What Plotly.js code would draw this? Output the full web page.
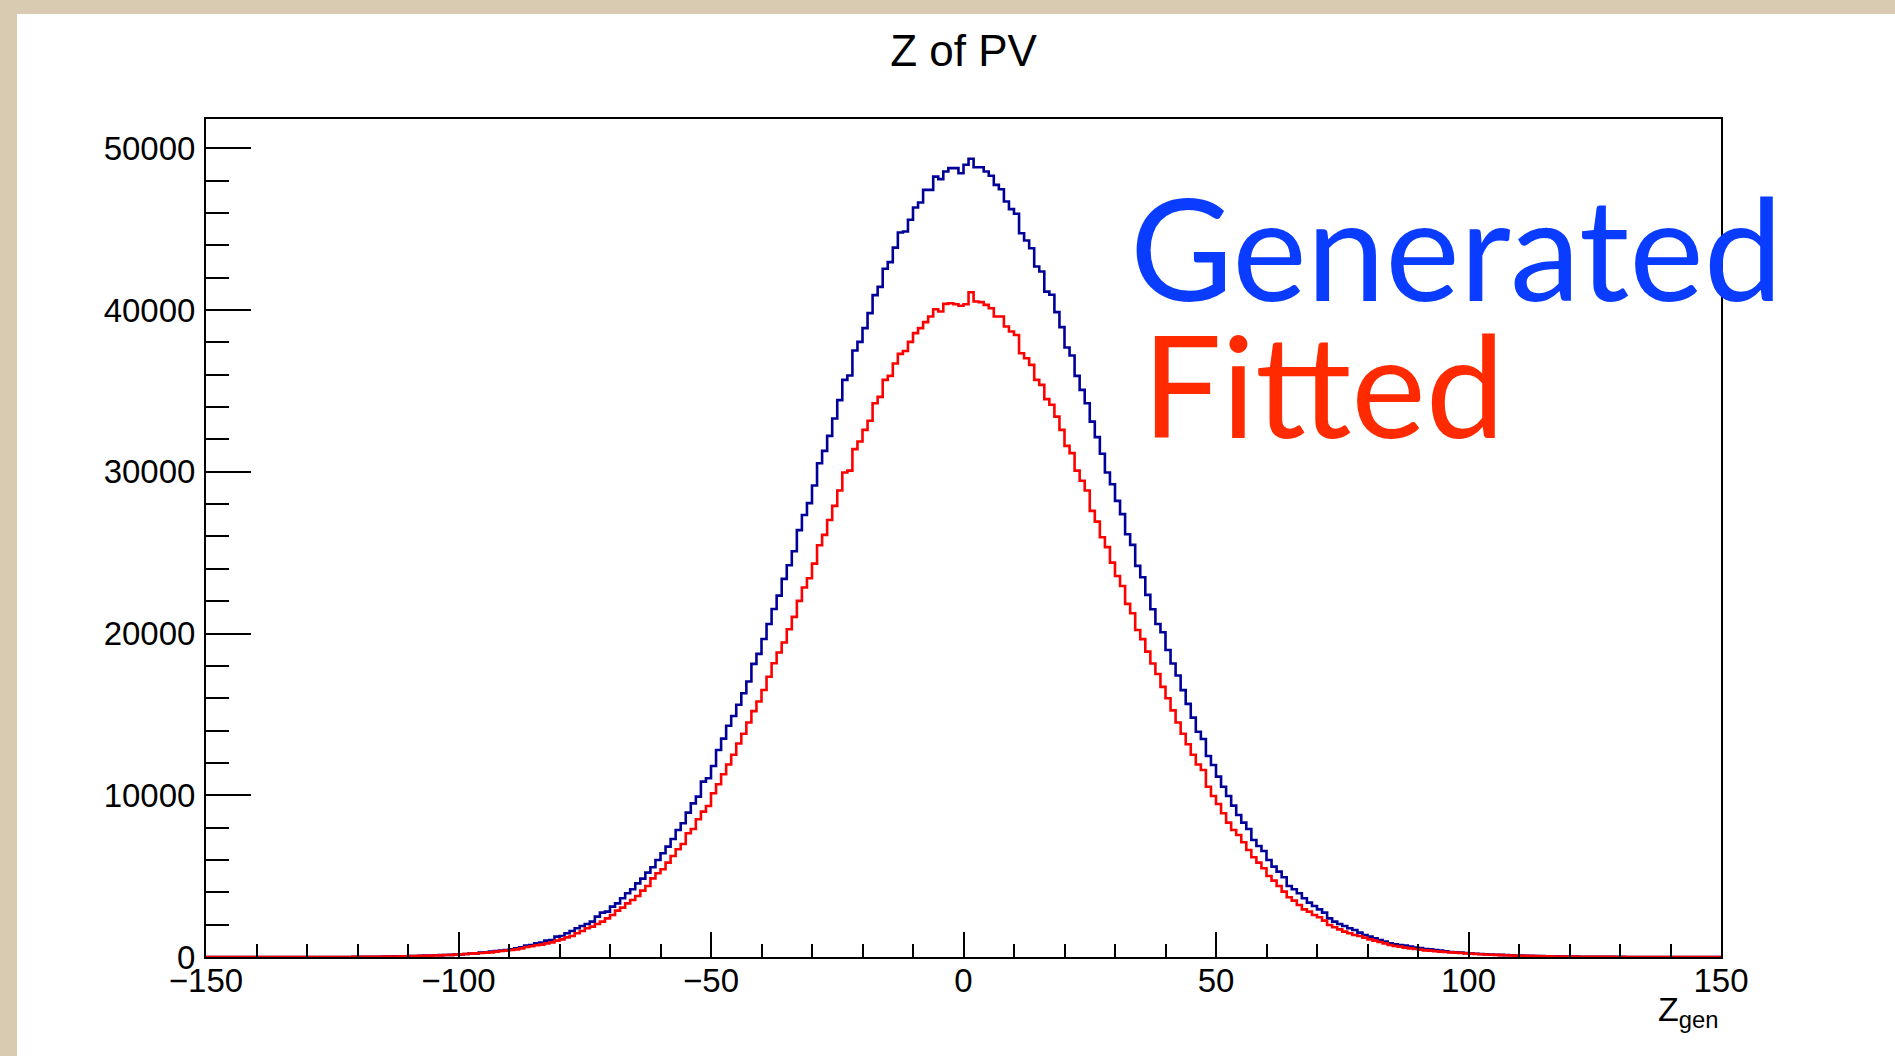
<!DOCTYPE html>
<html>
<head>
<meta charset="utf-8">
<script src="https://cdn.plot.ly/plotly-3.0.1.min.js"></script>
<style>
  html, body { margin: 0; padding: 0; width: 1895px; height: 1056px; overflow: hidden; background: #d8cbb2; }
  #panel { position: absolute; left: 17px; top: 14px; width: 1878px; height: 1042px; background: #ffffff; }
  #chart { position: absolute; left: 0; top: 0; width: 1895px; height: 1056px; }
</style>
</head>
<body>
<div id="panel"></div>
<div id="chart"></div>
<script>
// ---- data: histogram "Z of PV", 300 bins of width 1 from -150 to 150 ----
const xMin = -150;
const binWidth = 1;

// Generated (blue), bins k = -150 ... 149 (10 bins per line)
const generatedCounts = [
  0,0,0,0,0,0,0,0,0,0,
  0,0,0,0,0,0,0,0,0,0,
  0,0,0,0,0,1,2,3,4,6,
  8,10,13,16,20,25,30,36,43,50,
  58,66,75,84,94,104,114,124,130,144,
  165,186,206,227,268,289,330,371,392,433,
  474,536,598,701,742,845,887,1010,1051,1257,
  1299,1464,1608,1773,1917,2041,2185,2494,2741,2803,
  3112,3318,3628,3937,4185,4555,4845,5215,5545,6000,
  6410,6825,7300,7855,8265,8925,9500,9915,10840,11050,
  11810,12800,13500,14300,14900,15600,16310,17030,18120,18740,
  19665,20590,21520,22340,23375,24220,25090,26390,27330,28060,
  29150,30530,31290,32220,33290,34430,35680,35950,37500,38030,
  38880,39810,40920,41430,42550,42960,43860,44790,44850,45580,
  46340,46650,47430,47430,48250,48090,48560,48770,48770,48460,
  48980,49350,48830,48830,48560,48300,47740,47470,46710,46240,
  45950,44750,44300,43820,42690,42380,41140,40940,39870,38940,
  37680,37190,35930,35060,34240,33100,32140,31110,29950,29230,
  28200,27380,26140,25480,24180,23480,22390,21500,20590,20080,
  18980,18150,17400,16500,15650,14800,13930,13480,12430,11870,
  11150,10530,9956,9358,8781,8305,7915,7235,6864,6555,
  5998,5586,5277,4926,4391,4185,3937,3628,3360,3154,
  2947,2741,2391,2185,2041,1917,1773,1670,1505,1360,
  1257,1154,1051,948,845,783,742,701,639,577,
  557,495,474,433,392,351,309,289,268,247,
  227,205,190,172,158,143,130,118,107,96,
  87,78,70,62,55,49,43,38,33,29,
  25,22,19,16,14,12,10,8,7,6,
  5,4,3,3,2,2,1,1,1,0,
  0,0,0,0,0,0,0,0,0,0
];

// Fitted (red), same bins
const fittedCounts = [
  0,0,0,0,0,0,0,0,0,0,
  0,0,0,0,0,0,0,0,0,0,
  0,0,0,0,0,1,2,3,4,5,
  7,9,12,14,18,22,27,32,38,45,
  52,59,67,75,84,93,103,124,124,144,
  165,186,206,227,247,268,289,330,371,392,
  433,474,536,618,660,722,763,845,907,1010,
  1092,1216,1299,1464,1608,1773,1876,2041,2185,2391,
  2597,2865,3050,3318,3525,3772,4102,4391,4864,5174,
  5421,5834,6246,6658,6988,7648,7915,8513,8987,9338,
  10120,10680,11300,11900,12500,13200,13800,14500,15200,15800,
  16510,17330,18160,18830,19440,20260,21030,22020,22840,23420,
  24320,25460,26100,27020,27890,28840,29950,30070,31400,31870,
  32590,33150,34240,34630,35680,35930,36690,37290,37470,38030,
  38570,38880,39250,39600,40050,39910,40380,40420,40360,40260,
  40360,41100,40530,40490,40320,40110,39600,39600,38980,38670,
  38460,37330,37020,36610,35680,35370,34490,34140,33410,32590,
  31600,31150,30070,29440,28840,27580,26920,25950,25340,24380,
  23560,22940,21830,21250,20220,19650,18880,18150,17500,16700,
  16000,15250,14500,13800,13150,12500,11900,11560,10530,9956,
  9462,8884,8305,7854,7545,7091,6617,6164,5834,5483,
  5009,4720,4391,4040,3690,3483,3216,2947,2803,2597,
  2453,2247,1979,1835,1711,1567,1464,1360,1299,1196,
  1092,1010,928,845,742,680,639,577,536,495,
  454,412,392,351,330,309,289,268,247,227,
  206,188,172,156,142,129,117,106,95,86,
  77,69,61,54,48,42,37,32,28,24,
  21,18,15,13,11,9,8,6,5,4,
  3,3,2,2,1,1,1,0,0,0,
  0,0,0,0,0,0,0,0,0,0
];

const xTickVals = [-150, -100, -50, 0, 50, 100, 150];
const xTickText = ["\u2212150", "\u2212100", "\u221250", "0", "50", "100", "150"];
const yTickVals = [0, 10000, 20000, 30000, 40000, 50000];
const yTickText = ["0", "10000", "20000", "30000", "40000", "50000"];
const seriesNames = ["Generated", "Fitted"];
const seriesColors = ["#000099", "#ff0000"];
const labelColors = ["#0a3cff", "#ff2a00"];

// ---- build step outlines (bin edges, 'hv' steps) ----
function stepTrace(counts, color, name) {
  const xs = [], ys = [];
  xs.push(xMin); ys.push(0);
  for (let i = 0; i < counts.length; i++) {
    xs.push(xMin + i * binWidth); ys.push(counts[i]);
  }
  xs.push(xMin + counts.length * binWidth); ys.push(counts[counts.length - 1]);
  xs.push(xMin + counts.length * binWidth); ys.push(0);
  return {
    type: 'scatter', mode: 'lines', x: xs, y: ys, name: name,
    line: { color: color, width: 2.6, shape: 'hv' },
    hoverinfo: 'skip', showlegend: false
  };
}

const traces = [
  stepTrace(generatedCounts, seriesColors[0], seriesNames[0]),
  stepTrace(fittedCounts, seriesColors[1], seriesNames[1])
];

const tickFont = { family: 'Liberation Sans, Arial, Helvetica, sans-serif', size: 33, color: '#000' };

const layout = {
  width: 1895, height: 1056,
  paper_bgcolor: 'rgba(0,0,0,0)',
  plot_bgcolor: 'rgba(0,0,0,0)',
  margin: { l: 206, r: 174, t: 119, b: 99, pad: 0 },
  title: {
    text: 'Z of PV',
    font: { family: 'Liberation Sans, Arial, Helvetica, sans-serif', size: 44, color: '#000' },
    x: 0.5, xref: 'paper', xanchor: 'center',
    y: 1 - 51 / 1056, yref: 'container', yanchor: 'middle'
  },
  xaxis: {
    range: [-150, 150],
    showgrid: false, zeroline: false,
    showline: true, linecolor: '#000', linewidth: 2, mirror: true,
    tickmode: 'array', tickvals: xTickVals, ticktext: xTickText,
    ticks: 'inside', ticklen: 25, tickwidth: 2, tickcolor: '#000',
    minor: { dtick: 10, tick0: 0, ticks: 'inside', ticklen: 13, tickwidth: 2, tickcolor: '#000', showgrid: false },
    tickfont: tickFont,
    ticklabelstandoff: -7
  },
  yaxis: {
    range: [0, 51810],
    showgrid: false, zeroline: false,
    showline: true, linecolor: '#000', linewidth: 2, mirror: true,
    tickmode: 'array', tickvals: yTickVals, ticktext: yTickText,
    ticks: 'inside', ticklen: 45, tickwidth: 2, tickcolor: '#000',
    minor: { dtick: 2000, tick0: 0, ticks: 'inside', ticklen: 23, tickwidth: 2, tickcolor: '#000', showgrid: false },
    tickfont: tickFont,
    ticklabelstandoff: 2
  },
  annotations: [
    {
      text: 'Z<sub>gen</sub>', xref: 'paper', yref: 'paper',
      x: 1.0, y: -0.037, xanchor: 'right', yanchor: 'top', showarrow: false,
      font: { family: 'Liberation Sans, Arial, Helvetica, sans-serif', size: 34, color: '#000' }
    },
    {
      text: seriesNames[0], xref: 'paper', yref: 'paper',
      x: (1128 - 206) / 1515, y: (957 - 247) / 838, xanchor: 'left', yanchor: 'middle', showarrow: false,
      font: { family: 'Lato, Open Sans, sans-serif', size: 141, color: labelColors[0] }
    },
    {
      text: seriesNames[1], xref: 'paper', yref: 'paper',
      x: (1140 - 206) / 1515, y: (957 - 383) / 838, xanchor: 'left', yanchor: 'middle', showarrow: false,
      font: { family: 'Lato, Open Sans, sans-serif', size: 141, color: labelColors[1] }
    }
  ]
};

Plotly.newPlot('chart', traces, layout, { displayModeBar: false, staticPlot: true });
</script>
</body>
</html>
